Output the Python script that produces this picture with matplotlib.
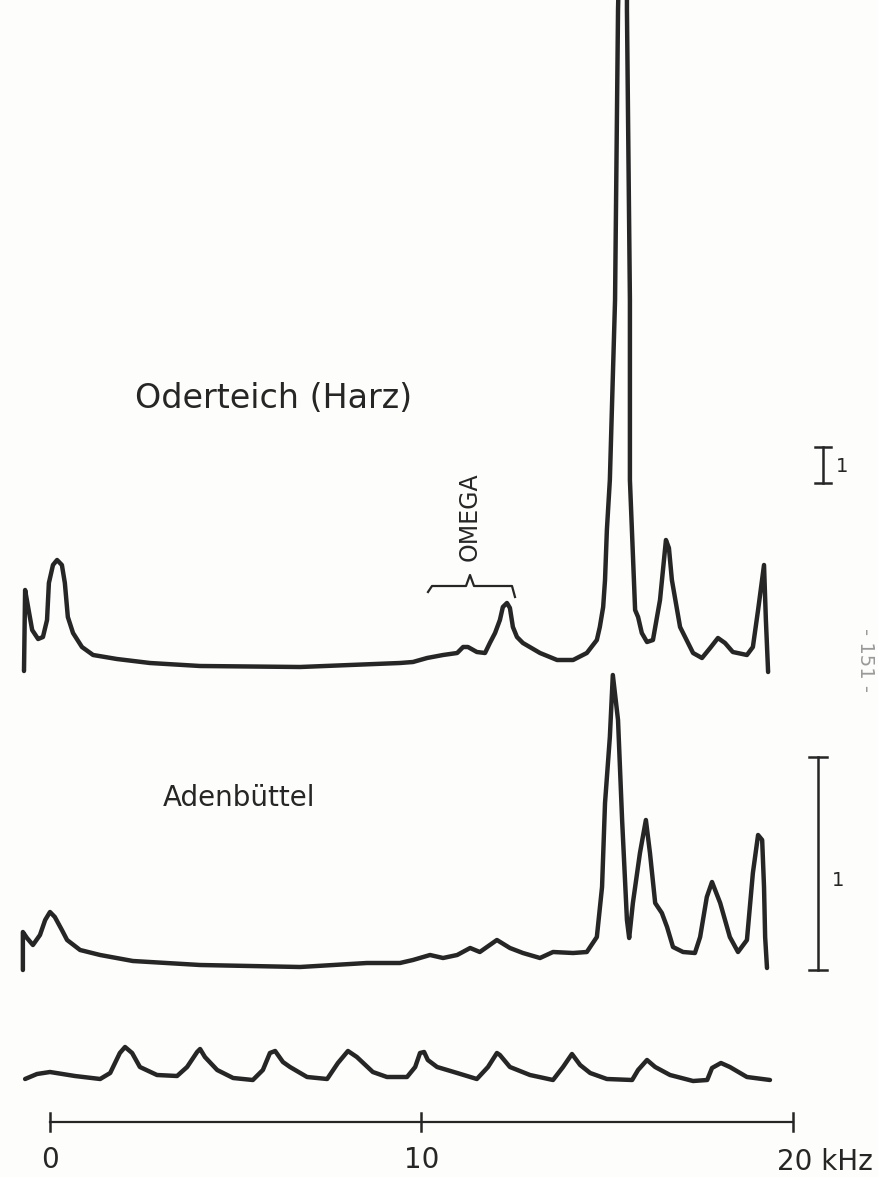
import numpy as np
import matplotlib
matplotlib.use("Agg")
import matplotlib.pyplot as plt

# frequency (kHz) and pen deflection above trace baseline (chart units)
oder_freq = [-0.70, -0.67, -0.59, -0.48, -0.32, -0.19, -0.08, -0.03, 0.08, 0.19,
             0.32, 0.40, 0.48, 0.62, 0.86, 1.16, 1.80, 2.69, 4.04, 6.73,
             9.42, 9.77, 10.15, 10.58, 10.96, 11.12, 11.25, 11.49, 11.71, 11.84,
             11.98, 12.11, 12.19, 12.30, 12.38, 12.46, 12.57, 12.73, 13.19, 13.65,
             14.08, 14.45, 14.72, 14.80, 14.89, 14.94, 14.99, 15.07, 15.21, 15.29,
             15.32, 15.53, 15.53, 15.61, 15.61, 15.75, 15.83, 15.93, 16.07, 16.23,
             16.42, 16.58, 16.66, 16.74, 16.96, 17.31, 17.55, 17.77, 17.98, 18.17,
             18.38, 18.76, 18.92, 19.06, 19.22, 19.27, 19.33]
oder_amp = [-1, 80, 63, 40, 31, 33, 50, 87, 105, 110,
            105, 87, 53, 37, 23, 15, 11, 7, 4, 3,
            7, 8, 12, 15, 17, 23, 23, 18, 17, 27,
            37, 50, 63, 67, 62, 43, 33, 27, 17, 10,
            10, 17, 30, 43, 63, 90, 140, 190, 370, 660,
            710, 710, 660, 370, 190, 60, 53, 37, 28, 30,
            70, 130, 122, 90, 43, 17, 12, 22, 32, 27,
            18, 15, 23, 60, 105, 50, -2]

aden_freq = [-0.73, -0.73, -0.62, -0.46, -0.27, -0.13, 0.00, 0.13, 0.32, 0.46,
             0.81, 1.35, 2.23, 4.04, 6.73, 8.53, 9.42, 9.77, 10.23, 10.58,
             10.96, 11.31, 11.57, 12.03, 12.38, 12.73, 13.19, 13.54, 14.08, 14.45,
             14.72, 14.86, 14.94, 15.07, 15.15, 15.29, 15.40, 15.53, 15.59, 15.69,
             15.88, 16.04, 16.15, 16.29, 16.47, 16.61, 16.77, 17.04, 17.36, 17.50,
             17.68, 17.82, 18.04, 18.30, 18.52, 18.76, 18.92, 19.06, 19.17, 19.22,
             19.25, 19.30]
aden_amp = [0, 38, 32, 25, 35, 50, 58, 53, 40, 30,
            20, 15, 9, 5, 3, 7, 7, 10, 15, 12,
            15, 22, 18, 30, 22, 17, 12, 18, 17, 18,
            33, 83, 167, 233, 295, 250, 150, 50, 32, 67,
            117, 150, 117, 67, 57, 43, 23, 18, 17, 33,
            73, 88, 67, 33, 18, 30, 97, 135, 130, 83,
            33, 2]

comb_freq = [-0.67, -0.35, 0.00, 0.67, 1.35, 1.62, 1.88, 2.02, 2.21, 2.42,
             2.88, 3.42, 3.69, 3.96, 4.04, 4.17, 4.50, 4.93, 5.46, 5.73,
             5.92, 6.06, 6.27, 6.46, 6.92, 7.46, 7.75, 8.02, 8.26, 8.69,
             9.07, 9.61, 9.83, 9.96, 10.07, 10.17, 10.42, 10.96, 11.49, 11.79,
             12.03, 12.11, 12.38, 12.92, 13.54, 13.81, 14.05, 14.27, 14.54, 14.99,
             15.67, 15.83, 16.07, 16.29, 16.69, 17.31, 17.69, 17.82, 18.06, 18.30,
             18.76, 19.38]
comb_amp = [2, 7, 9, 5, 2, 8, 28, 34, 28, 14,
            6, 5, 14, 29, 32, 24, 11, 3, 1, 11,
            28, 30, 19, 14, 4, 2, 18, 30, 24, 9,
            4, 4, 14, 28, 29, 21, 14, 8, 2, 14,
            28, 26, 14, 6, 1, 14, 27, 16, 8, 2,
            1, 11, 21, 14, 6, 0, 1, 13, 18, 14,
            4, 1]

axis_ticks = [0, 10, 20]
tick_labels = ["0", "10", "20 kHz"]

INK = "#262626"
PX_PER_KHZ = 37.15
X0 = 50  # page pixel of 0 kHz


def khz(px):
    return (px - X0) / PX_PER_KHZ


fig = plt.figure(figsize=(8.79, 11.77), dpi=100)
fig.patch.set_facecolor("#fdfdfb")
ax = fig.add_axes([0, 0, 1, 1])
ax.set_xlim(khz(0), khz(879))
ax.set_ylim(1177, 0)
ax.axis("off")

# traces, each on its own baseline (page rows)
for freq, amp, base in [(oder_freq, oder_amp, 670),
                        (aden_freq, aden_amp, 970),
                        (comb_freq, comb_amp, 1081)]:
    ax.plot(freq, base - np.array(amp), color=INK, lw=3.2,
            solid_joinstyle="round", solid_capstyle="round")

# frequency scale
ax.plot([axis_ticks[0], axis_ticks[-1]], [1122, 1122], color=INK, lw=1.6)
for t, lab in zip(axis_ticks, tick_labels):
    ax.plot([t, t], [1113, 1131], color=INK, lw=1.8)
    if lab.endswith("kHz"):
        ax.text(khz(777), 1162, lab, fontsize=20, color=INK, ha="left", va="center")
    else:
        ax.text(t, 1160, lab, fontsize=20, color=INK, ha="center", va="center")

# amplitude scale bars
for xp, y1, y2, half, lx, ly in [(823, 447, 483, 8, 842, 467),
                                 (818, 757, 970, 9, 838, 880)]:
    ax.plot([khz(xp), khz(xp)], [y1, y2], color=INK, lw=1.8)
    for yy in (y1, y2):
        ax.plot([khz(xp - half), khz(xp + half)], [yy, yy], color=INK, lw=1.8)
    ax.text(khz(lx), ly, "1", fontsize=14, color=INK, ha="center", va="center")

# station labels
ax.text(khz(135), 398, "Oderteich (Harz)", fontsize=24, color=INK,
        ha="left", va="center")
ax.text(khz(163), 798, "Adenbüttel", fontsize=20, color=INK,
        ha="left", va="center")

# OMEGA brace
bx = [428, 432, 466, 470, 474, 512, 515]
by = [592, 586, 586, 575, 586, 586, 597]
ax.plot([khz(v) for v in bx], by, color=INK, lw=1.6)
ax.text(khz(470), 517, "OMEGA", fontsize=17, color=INK, rotation=90,
        ha="center", va="center")

# show-through page number at right edge
ax.text(khz(866), 660, "- 151 -", fontsize=14, color="#9a9a9a", rotation=-90,
        ha="center", va="center")

fig.savefig("out.png", dpi=100, facecolor=fig.get_facecolor())
